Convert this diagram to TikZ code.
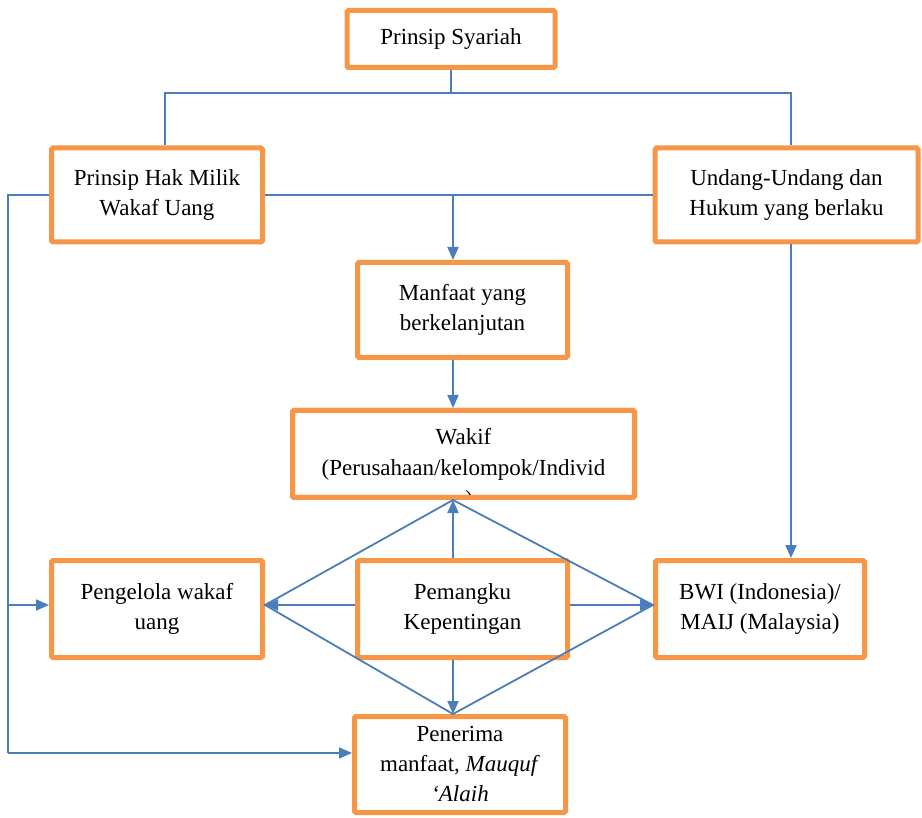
\documentclass[tikz,border=0pt]{standalone}
\usepackage{fontspec}
\setmainfont{Liberation Serif}
\usetikzlibrary{arrows.meta,calc}
\definecolor{boxorange}{HTML}{F79646}
\definecolor{linkblue}{HTML}{4A7EBB}
\begin{document}
\begin{tikzpicture}[x=1pt,y=-1pt,
  card/.style={draw=boxorange, line width=5pt, rounded corners=1.5pt, fill=white,
    align=center, inner sep=0pt,
    font=\fontsize{23}{30}\selectfont},
  link/.style={draw=linkblue, line width=1.8pt},
  arr/.style={link, -{Triangle[length=13pt,width=11pt]}}]
\useasboundingbox (0,0) rectangle (922,818);

% boxes
\node[card, minimum width=208, minimum height=57] (syariah) at (451,39) {Prinsip Syariah};
\node[card, minimum width=211, minimum height=94] (hak) at (157,195) {Prinsip Hak Milik\\Wakaf Uang};
\node[card, minimum width=263, minimum height=94] (uu) at (786.5,195) {Undang-Undang dan\\Hukum yang berlaku};
\node[card, minimum width=210, minimum height=95] (manfaat) at (462.5,310) {Manfaat yang\\berkelanjutan};
\node[card, minimum width=342, minimum height=87] (wakif) at (463.5,454) {};
\begin{scope}
  \clip ($(wakif.south west)+(2.5,-2.5)$) rectangle ($(wakif.north east)+(-2.5,2.5)$);
  \node[align=center, inner sep=0pt, font=\fontsize{23}{31}\selectfont, anchor=north] at (463.5,428)
    {Wakif\\(Perusahaan/kelompok/Individ\\u)};
\end{scope}
\node[card, minimum width=342, minimum height=87, fill=none] at (wakif) {};
\node[card, minimum width=211, minimum height=97] (pengelola) at (157,609) {Pengelola wakaf\\uang};
\node[card, minimum width=210, minimum height=97] (pemangku) at (462.5,609) {Pemangku\\Kepentingan};
\node[card, minimum width=209, minimum height=97] (bwi) at (760,609) {BWI (Indonesia)/\\MAIJ (Malaysia)};
\node[card, minimum width=211, minimum height=96] (penerima) at (460,764.5)
  {Penerima\\manfaat, \textit{Mauquf}\\\textit{`Alaih}};

% bus under the top box
\coordinate (busL) at (165,93);
\coordinate (busR) at (791,93);
\coordinate (busM) at (451,93);
\draw[link] (syariah.south) -- (busM);
\draw[link] (hak.north -| busL) -- (busL) -- (busR) -- (uu.north -| busR);

% middle bar between the two upper boxes
\coordinate (midbar) at (453,195);
\draw[link] (hak.east) -- (uu.west);
\draw[arr] (midbar) -- (manfaat.north -| midbar);
\draw[arr] (manfaat.south -| midbar) -- (wakif.north -| midbar);

% left rail
\coordinate (railT) at (8,195);
\coordinate (railB) at (8,753);
\coordinate (railP) at (8,605);
\draw[link] (hak.west) -- (railT) -- (railB);
\draw[arr] (railB) -- (penerima.west |- railB);
\draw[arr] (railP) -- (pengelola.west |- railP);

% right drop
\draw[arr] (uu.south -| busR) -- (bwi.north -| busR);

% stakeholder links
\coordinate (axis) at (453,605);
\draw[arr] (pemangku.north -| axis) -- (wakif.south -| axis);
\draw[arr] (pemangku.west |- axis) -- (pengelola.east |- axis);
\draw[arr] (pemangku.east |- axis) -- (bwi.west |- axis);
\draw[arr] (pemangku.south -| axis) -- (penerima.north -| axis);

% diamond
\draw[link] (wakif.south -| axis) -- (pengelola.east |- axis) -- (penerima.north -| axis)
  -- (bwi.west |- axis) -- cycle;
\end{tikzpicture}
\end{document}
